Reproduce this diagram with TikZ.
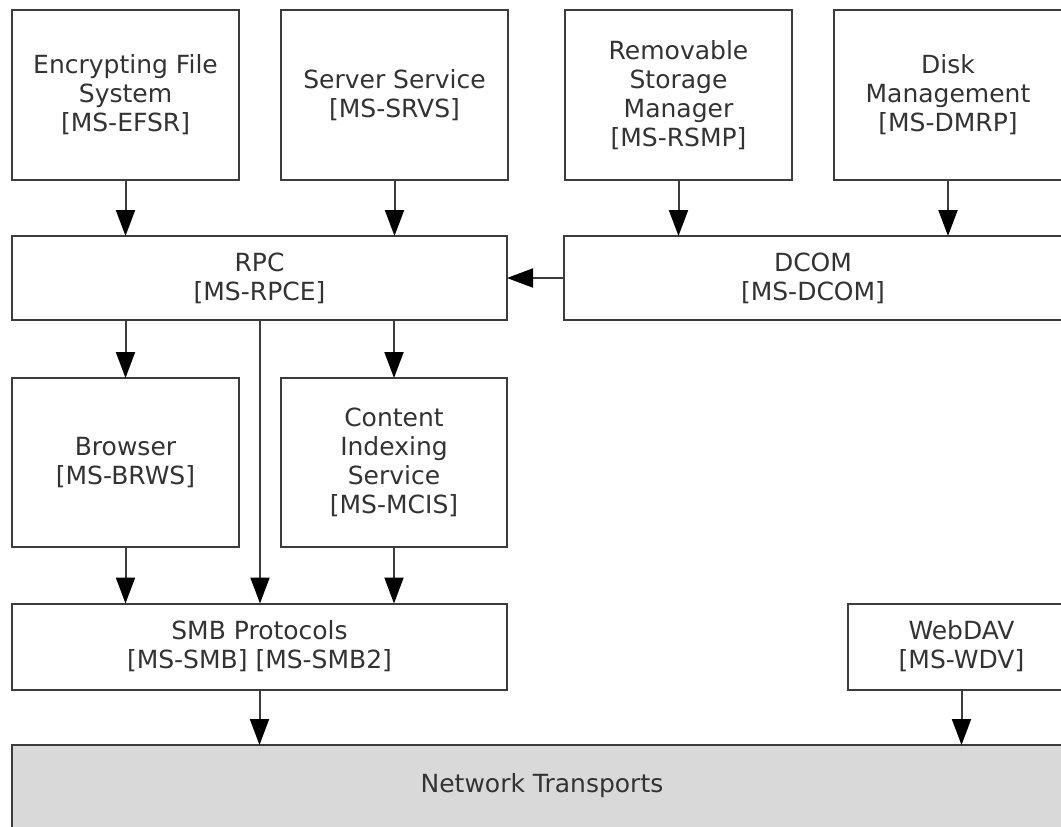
\documentclass[tikz,border=0pt]{standalone}
\usepackage{fontspec}
\setmainfont{DejaVu Sans}
\usetikzlibrary{arrows.meta}
\definecolor{edge}{HTML}{3C3C3C}
\definecolor{txt}{HTML}{333333}
\definecolor{netfill}{HTML}{D9D9D9}
\tikzset{
  box/.style={draw=edge, line width=2pt, fill=white, rectangle, inner sep=0pt, outer sep=0pt,
    align=center, text=txt, font=\fontsize{25}{29}\selectfont},
  arr/.style={draw=edge, line width=2pt, -{Triangle[length=26pt,width=19pt,fill=black,color=black]}},
}
\begin{document}
\begin{tikzpicture}[x=1pt,y=-1pt]
\useasboundingbox (0,0) rectangle (1061,827);
% top row
\node[box, minimum width=227pt, minimum height=170pt] (efs) at (125.5,95) {Encrypting File\\System\\{}[MS-EFSR]};
\node[box, minimum width=227pt, minimum height=170pt] (srv) at (394.5,95) {Server Service\\{}[MS-SRVS]};
\node[box, minimum width=227pt, minimum height=170pt] (rsm) at (678.5,95) {Removable\\Storage\\Manager\\{}[MS-RSMP]};
\node[box, minimum width=228pt, minimum height=170pt] (dsk) at (948,95) {Disk\\Management\\{}[MS-DMRP]};
% second row
\node[box, minimum width=495pt, minimum height=84pt] (rpc) at (259.5,278) {RPC\\{}[MS-RPCE]};
\node[box, minimum width=498pt, minimum height=84pt] (dcom) at (813,278) {DCOM\\{}[MS-DCOM]};
% third row
\node[box, minimum width=227pt, minimum height=169pt] (brw) at (125.5,462.5) {Browser\\{}[MS-BRWS]};
\node[box, minimum width=226pt, minimum height=169pt] (cis) at (394,462.5) {Content\\Indexing\\Service\\{}[MS-MCIS]};
% fourth row
\node[box, minimum width=495pt, minimum height=86pt] (smb) at (259.5,646.5) {SMB Protocols\\{}[MS-SMB] [MS-SMB2]};
\node[box, minimum width=227pt, minimum height=86pt] (wdv) at (961.5,646.5) {WebDAV\\{}[MS-WDV]};
% bottom
\node[box, fill=netfill, minimum width=1061pt, minimum height=100pt] (net) at (542.5,795) {};
\node[text=txt, font=\fontsize{25}{29}\selectfont, inner sep=0pt] (nettxt) at (542,786) {Network Transports};
% connectors
\draw[arr] (efs.south) -- (efs.south |- rpc.north);
\draw[arr] (srv.south) -- (srv.south |- rpc.north);
\draw[arr] (rsm.south) -- (rsm.south |- dcom.north);
\draw[arr] (dsk.south) -- (dsk.south |- dcom.north);
\draw[arr] (dcom.west) -- (rpc.east);
\draw[arr] (rpc.south -| brw.north) -- (brw.north);
\draw[arr] (rpc.south -| cis.north) -- (cis.north);
\coordinate (rpcout) at (260,320);
\draw[arr] (rpcout) -- (rpcout |- smb.north);
\draw[arr] (brw.south) -- (brw.south |- smb.north);
\draw[arr] (cis.south) -- (cis.south |- smb.north);
\draw[arr] (smb.south) -- (smb.south |- net.north);
\draw[arr] (wdv.south) -- (wdv.south |- net.north);
\end{tikzpicture}
\end{document}
